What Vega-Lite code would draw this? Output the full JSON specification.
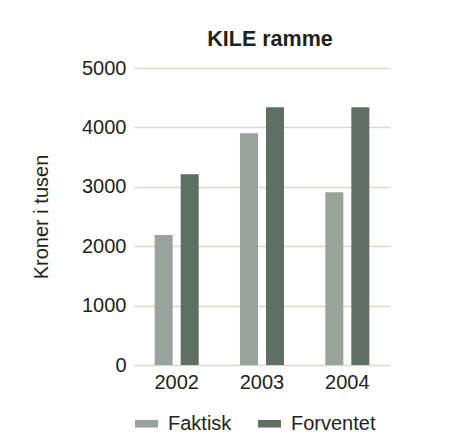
{
  "$schema": "https://vega.github.io/schema/vega-lite/v6.json",
  "autosize": "none",
  "width": 256,
  "height": 297,
  "padding": {"left": 134, "top": 68, "right": 72, "bottom": 80},
  "background": "white",
  "title": {
    "text": "KILE ramme",
    "font": "Liberation Sans",
    "fontSize": 21.5,
    "fontWeight": "bold",
    "color": "#231f20",
    "anchor": "middle",
    "dx": 8,
    "offset": 8
  },
  "data": {
    "values": [
      {"year": "2002", "series": "Faktisk", "value": 2190},
      {"year": "2002", "series": "Forventet", "value": 3210},
      {"year": "2003", "series": "Faktisk", "value": 3900},
      {"year": "2003", "series": "Forventet", "value": 4340},
      {"year": "2004", "series": "Faktisk", "value": 2910},
      {"year": "2004", "series": "Forventet", "value": 4340}
    ]
  },
  "mark": {"type": "bar"},
  "encoding": {
    "x": {
      "field": "year",
      "type": "nominal",
      "scale": {"paddingInner": 0.484, "paddingOuter": 0.242},
      "axis": {
        "title": null,
        "labelAngle": 0,
        "domain": false,
        "ticks": false,
        "labelFont": "Liberation Sans",
        "labelFontSize": 20,
        "labelColor": "#231f20",
        "labelPadding": 7
      }
    },
    "xOffset": {
      "field": "series",
      "type": "nominal",
      "scale": {"paddingInner": 0.3077, "paddingOuter": 0}
    },
    "y": {
      "field": "value",
      "type": "quantitative",
      "scale": {"domain": [0, 5000]},
      "axis": {
        "title": "Kroner i tusen",
        "titleFont": "Liberation Sans",
        "titleFontSize": 20,
        "titleFontWeight": "normal",
        "titleColor": "#231f20",
        "titlePadding": 30,
        "values": [0, 1000, 2000, 3000, 4000, 5000],
        "format": "d",
        "domain": false,
        "ticks": false,
        "labelFont": "Liberation Sans",
        "labelFontSize": 20,
        "labelColor": "#231f20",
        "labelPadding": 8,
        "grid": true,
        "gridColor": "#d8d8ce",
        "gridWidth": 1.5
      }
    },
    "color": {
      "field": "series",
      "type": "nominal",
      "scale": {"domain": ["Faktisk", "Forventet"], "range": ["#97a39c", "#5e6f63"]},
      "legend": {
        "title": null,
        "orient": "none",
        "direction": "horizontal",
        "legendX": 1,
        "legendY": 344,
        "symbolType": "M-1,-0.33H1V0.33H-1Z",
        "symbolSize": 529,
        "symbolStrokeWidth": 0,
        "labelFont": "Liberation Sans",
        "labelFontSize": 20,
        "labelColor": "#231f20",
        "labelOffset": 10,
        "columnPadding": 26
      }
    }
  },
  "config": {
    "view": {"stroke": null}
  }
}
